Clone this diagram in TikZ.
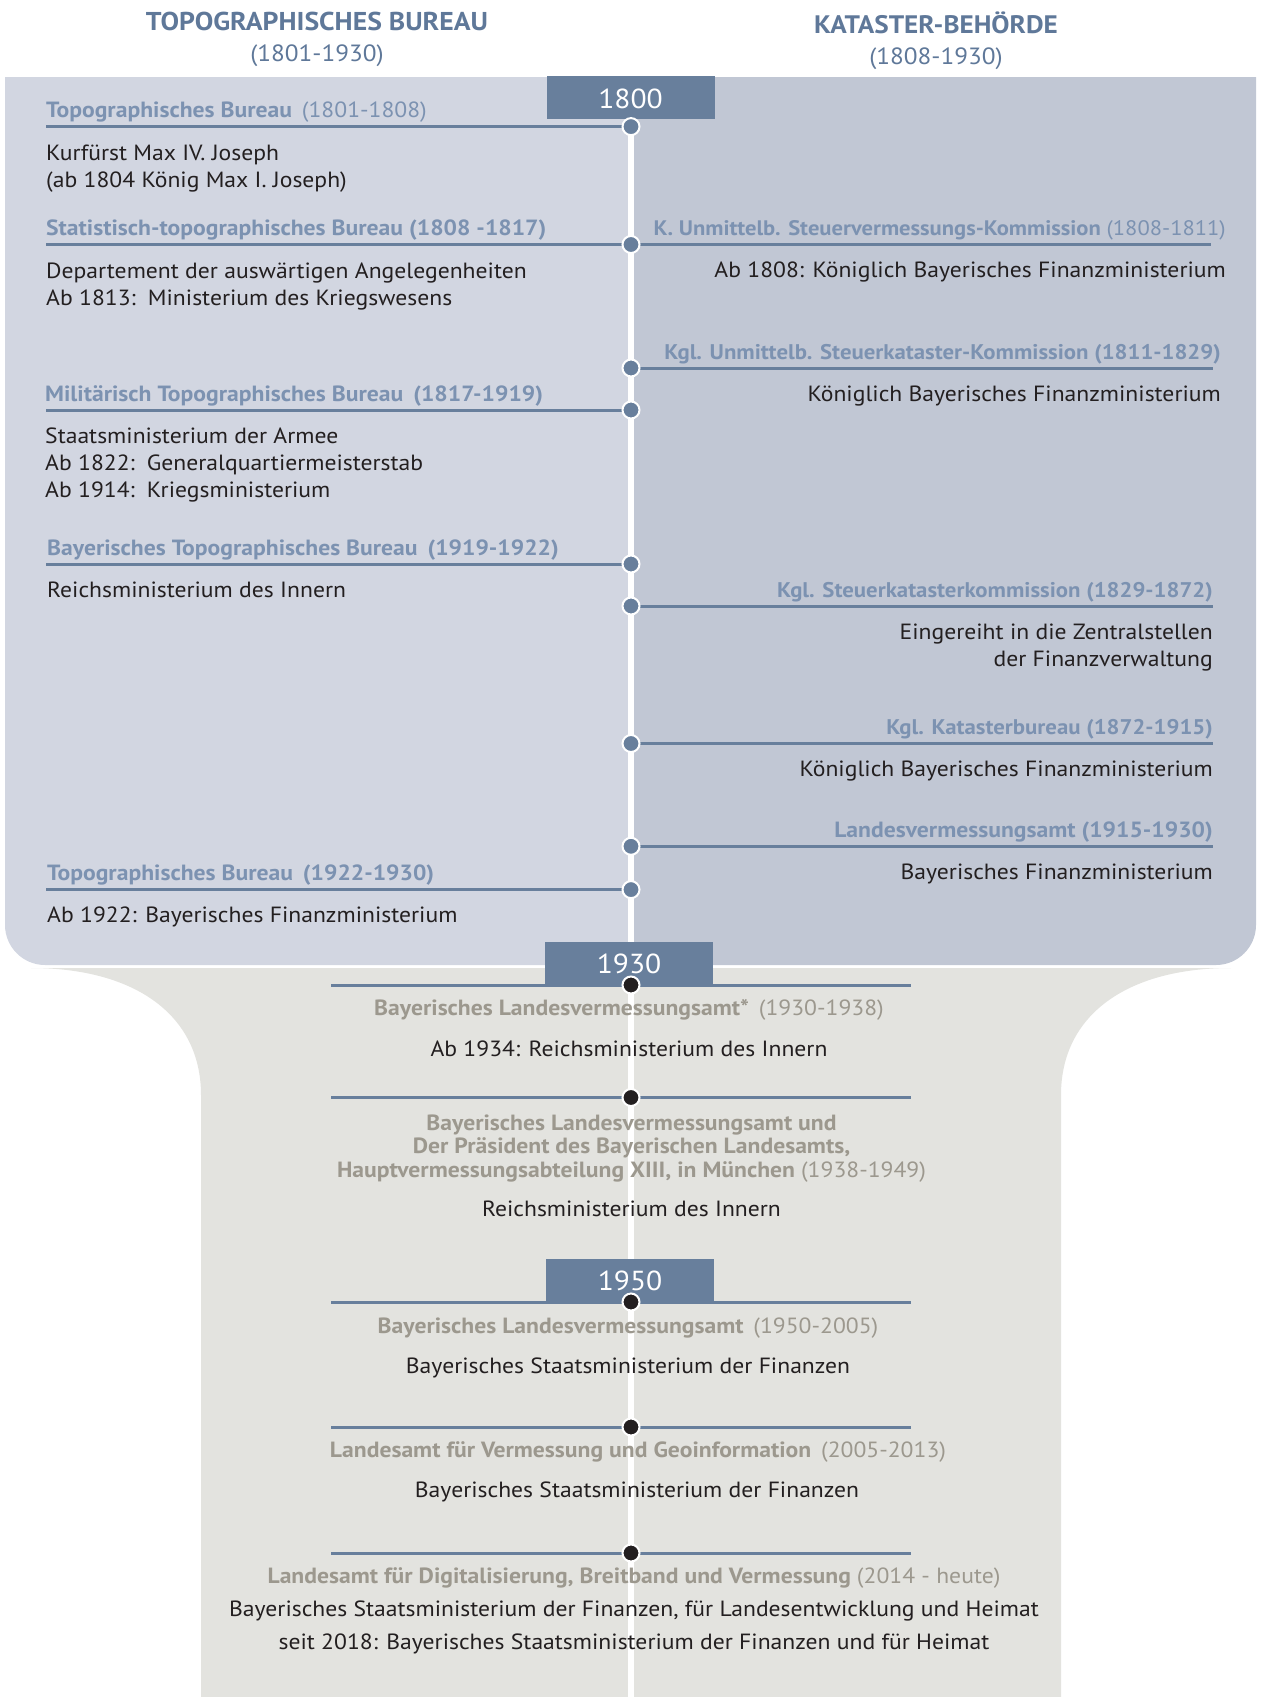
\documentclass[tikz,border=0pt]{standalone}
\usepackage{fontspec}
\setmainfont{PT Sans}[FakeStretch=1.075]
\definecolor{slate}{HTML}{687F9C}
\definecolor{ttlblue}{HTML}{7C92B1}
\definecolor{hdrblue}{HTML}{5F7899}
\definecolor{paneL}{HTML}{D2D6E1}
\definecolor{paneR}{HTML}{C1C7D4}
\definecolor{stone}{HTML}{E3E3DF}
\definecolor{ttlgray}{HTML}{9C988E}
\definecolor{ink}{HTML}{231F20}

\begin{document}
\begin{tikzpicture}[x=1pt, y=-1pt,
    yearbox/.style={fill=slate, text=white, minimum width=168, minimum height=43, text height=21, text depth=0, inner sep=0, anchor=south, font=\fontsize{27.5}{28}\selectfont},
    rule/.style={draw=slate, line width=3},
    bluedot/.style={circle, fill=slate, draw=white, line width=2, minimum size=17, inner sep=0},
    blackdot/.style={bluedot, fill=ink},
    ttl/.style={inner sep=0, text=ttlblue, font=\fontsize{22}{24}\selectfont\bfseries},
    ttlr/.style={ttl, anchor=base east, font=\fontsize{21.2}{24}\selectfont\bfseries},
    ttlg/.style={ttl, text=ttlgray, align=center, anchor=base},
    txt/.style={inner sep=0, text=ink, font=\fontsize{22}{27}\selectfont},
    hdr/.style={inner sep=0, anchor=base, text=hdrblue, font=\fontsize{23.5}{24}\selectfont}]
    \useasboundingbox (0,0) rectangle (1264,1697);

    % panels
    \fill[stone] (31,968) .. controls (135,968) and (201,1015) .. (201,1095) -- (201,1697)
        -- (1061,1697) -- (1061,1095) .. controls (1061,1015) and (1127,968) .. (1231,968) -- cycle;
    \fill[paneL] (631,77) -- (5,77) -- (5,925) .. controls (5,947) and (23,965) .. (45,965) -- (631,965) -- cycle;
    \fill[paneR] (631,77) -- (1256,77) -- (1256,925) .. controls (1256,947) and (1238,965) .. (1216,965) -- (631,965) -- cycle;

    % headers
    \node[hdr, font=\fontsize{25.8}{26}\selectfont\bfseries] (hl) at (317,30) {TOPOGRAPHISCHES BUREAU};
    \node[hdr] (hly) at (317,61) {(1801-1930)};
    \node[hdr, font=\fontsize{25.3}{26}\selectfont\bfseries] (hr) at (936,33) {KATASTER-BEHÖRDE};
    \node[hdr] (hry) at (936,64) {(1808-1930)};

    % timeline
    \coordinate (top) at (631,119);
    \coordinate (bottom) at (631,1697);
    \draw[white, line width=6] (top) -- (bottom);

    \node[yearbox] (y1800) at (630.5,119.3) {1800};
    \node[yearbox] (y1930) at (629,985) {1930};
    \node[yearbox] (y1950) at (630,1302) {1950};

    % rules, left side
    \coordinate (l1) at (46,126.6);  \coordinate (d1) at (631,126.6);
    \coordinate (l2) at (46,244.5);  \coordinate (r2) at (1211,244.5);
    \coordinate (l3) at (46,410);    \coordinate (d3) at (631,410);
    \coordinate (l4) at (46,564);    \coordinate (d4) at (631,564);
    \coordinate (l5) at (46,889.6);  \coordinate (d5) at (631,889.6);
    \draw[rule] (l1) -- (d1);
    \draw[rule] (l2) -- (r2);
    \draw[rule] (l3) -- (d3);
    \draw[rule] (l4) -- (d4);
    \draw[rule] (l5) -- (d5);

    % rules, right side
    \coordinate (k2) at (631,368);    \coordinate (r3) at (1213,368);
    \coordinate (k3) at (631,606);    \coordinate (r4) at (1213,606);
    \coordinate (k4) at (631,743.5);  \coordinate (r5) at (1213,743.5);
    \coordinate (k5) at (631,846.3);  \coordinate (r6) at (1213,846.3);
    \draw[rule] (k2) -- (r3);
    \draw[rule] (k3) -- (r4);
    \draw[rule] (k4) -- (r5);
    \draw[rule] (k5) -- (r6);

    % rules, lower part
    \coordinate (m1) at (331,985);    \coordinate (n1) at (911,985);
    \coordinate (m2) at (331,1097.5); \coordinate (n2) at (911,1097.5);
    \coordinate (m3) at (331,1302);   \coordinate (n3) at (911,1302);
    \coordinate (m4) at (331,1427);   \coordinate (n4) at (911,1427);
    \coordinate (m5) at (331,1553);   \coordinate (n5) at (911,1553);
    \draw[rule] (m1) -- (n1);
    \draw[rule] (m2) -- (n2);
    \draw[rule] (m3) -- (n3);
    \draw[rule] (m4) -- (n4);
    \draw[rule] (m5) -- (n5);

    % dots
    \node[bluedot] (p1) at (d1) {};
    \node[bluedot] (p2) at (631,244.5) {};
    \node[bluedot] (p3) at (k2) {};
    \node[bluedot] (p4) at (d3) {};
    \node[bluedot] (p5) at (d4) {};
    \node[bluedot] (p6) at (k3) {};
    \node[bluedot] (p7) at (k4) {};
    \node[bluedot] (p8) at (k5) {};
    \node[bluedot] (p9) at (d5) {};
    \node[blackdot] (q1) at (631,985) {};
    \node[blackdot] (q2) at (631,1097.5) {};
    \node[blackdot] (q3) at (631,1302) {};
    \node[blackdot] (q4) at (631,1427) {};
    \node[blackdot] (q5) at (631,1553) {};

    % left column (multi-line texts sit on their last line)
    \node[ttl, anchor=base west] (tl1) at (46,117.6) {Topographisches Bureau\hspace{0.45em}{\mdseries(1801-1808)}};
    \node[txt, anchor=base west, align=left] (bl1) at (46,187) {Kurfürst Max IV. Joseph\\(ab 1804 König Max I. Joseph)};
    \node[ttl, anchor=base west] (tl2) at (46,235.5) {Statistisch-topographisches Bureau (1808 -1817)};
    \node[txt, anchor=base west, align=left] (bl2) at (46,305) {Departement der auswärtigen Angelegenheiten\\Ab 1813:\, Ministerium des Kriegswesens};
    \node[ttl, anchor=base west] (tl3) at (45,401) {Militärisch Topographisches Bureau\hspace{0.45em}(1817-1919)};
    \node[txt, anchor=base west, align=left] (bl3) at (45,497) {Staatsministerium der Armee\\Ab 1822:\, Generalquartiermeisterstab\\Ab 1914:\, Kriegsministerium};
    \node[ttl, anchor=base west] (tl4) at (47,555) {Bayerisches Topographisches Bureau\hspace{0.45em}(1919-1922)};
    \node[txt, anchor=base west] (bl4) at (47,597) {Reichsministerium des Innern};
    \node[ttl, anchor=base west] (tl5) at (47,880.6) {Topographisches Bureau\hspace{0.45em}(1922-1930)};
    \node[txt, anchor=base west] (bl5) at (47,922.6) {Ab 1922: Bayerisches Finanzministerium};

    % right column
    \node[ttlr, font=\fontsize{21}{24}\selectfont\bfseries] (tr1) at (1226,235) {K. Unmittelb. Steuervermessungs-Kommission {\mdseries(1808-1811)}};
    \node[txt, anchor=base east] (br1) at (1226,277) {Ab 1808: Königlich Bayerisches Finanzministerium};
    \node[ttlr] (tr2) at (1221,359) {Kgl. Unmittelb. Steuerkataster-Kommission (1811-1829)};
    \node[txt, anchor=base east] (br2) at (1221,401) {Königlich Bayerisches Finanzministerium};
    \node[ttlr] (tr3) at (1213,597) {Kgl. Steuerkatasterkommission (1829-1872)};
    \node[txt, anchor=base east, align=right] (br3) at (1213,666) {Eingereiht in die Zentralstellen\\der Finanzverwaltung};
    \node[ttlr] (tr4) at (1213,734.5) {Kgl. Katasterbureau (1872-1915)};
    \node[txt, anchor=base east] (br4) at (1213,776.5) {Königlich Bayerisches Finanzministerium};
    \node[ttlr, font=\fontsize{22}{24}\selectfont\bfseries] (tr5) at (1213,837) {Landesvermessungsamt (1915-1930)};
    \node[txt, anchor=base east] (br5) at (1213,879) {Bayerisches Finanzministerium};

    % lower part
    \node[ttlg] (tc1) at (629,1015) {Bayerisches Landesvermessungsamt*\hspace{0.45em}{\mdseries(1930-1938)}};
    \node[txt, anchor=base] (bc1) at (629,1056) {Ab 1934: Reichsministerium des Innern};
    \node[ttlg, font=\fontsize{22}{23.5}\selectfont\bfseries] (tc2) at (631.5,1177) {Bayerisches Landesvermessungsamt und\\Der Präsident des Bayerischen Landesamts,\\Hauptvermessungsabteilung XIII, in München {\mdseries(1938-1949)}};
    \node[txt, anchor=base] (bc2) at (631.5,1216) {Reichsministerium des Innern};
    \node[ttlg] (tc3) at (628,1333) {Bayerisches Landesvermessungsamt\hspace{0.45em}{\mdseries(1950-2005)}};
    \node[txt, anchor=base] (bc3) at (628,1373) {Bayerisches Staatsministerium der Finanzen};
    \node[ttlg] (tc4) at (638,1457) {Landesamt für Vermessung und Geoinformation\hspace{0.45em}{\mdseries(2005-2013)}};
    \node[txt, anchor=base] (bc4) at (637,1497) {Bayerisches Staatsministerium der Finanzen};
    \node[ttlg] (tc5) at (634,1583) {Landesamt für Digitalisierung, Breitband und Vermessung {\mdseries(2014 - heute)}};
    \node[txt, anchor=base, align=center] (bc5) at (634,1649) {Bayerisches Staatsministerium der Finanzen, für Landesentwicklung und Heimat\\[6pt]seit 2018: Bayerisches Staatsministerium der Finanzen und für Heimat};
\end{tikzpicture}
\end{document}
